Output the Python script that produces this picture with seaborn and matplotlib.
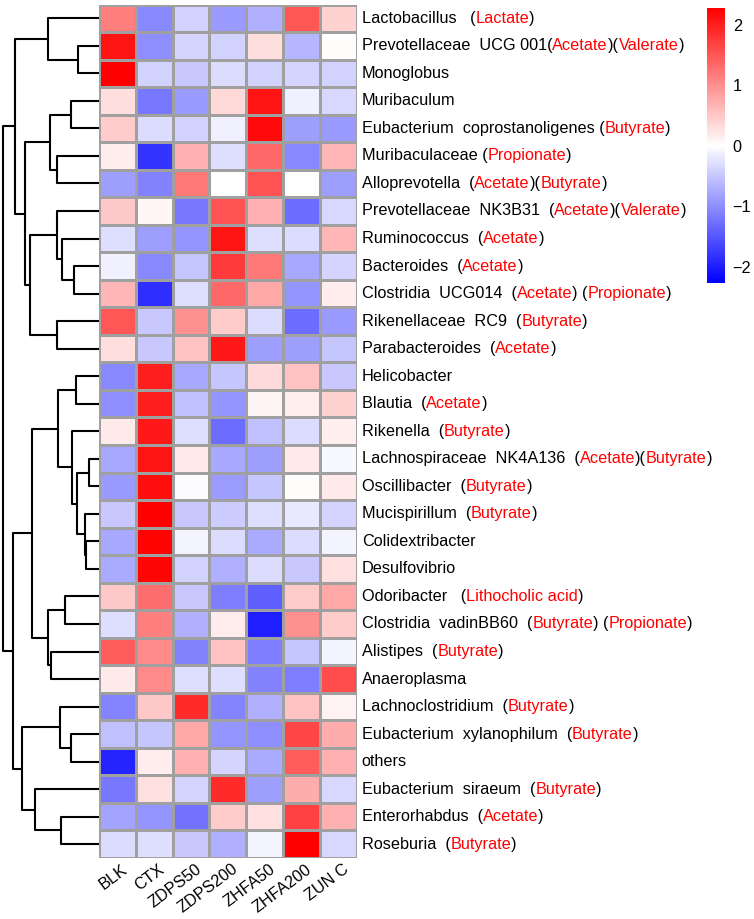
import re
import numpy as np
import pandas as pd
import matplotlib
matplotlib.use('Agg')
import matplotlib.pyplot as plt
import seaborn as sns
from matplotlib.colors import LinearSegmentedColormap
from matplotlib.transforms import ScaledTranslation

sns.set_style('white')
plt.rcParams['font.family'] = ['Liberation Sans', 'DejaVu Sans']
plt.rcParams['text.color'] = 'black'
plt.rcParams['xtick.color'] = 'black'
plt.rcParams['ytick.color'] = 'black'

# row labels (metabolites in brackets are drawn in red)
labels = [
    'Lactobacillus   (Lactate)',
    'Prevotellaceae  UCG 001(Acetate)(Valerate)',
    'Monoglobus',
    'Muribaculum',
    'Eubacterium  coprostanoligenes (Butyrate)',
    'Muribaculaceae (Propionate)',
    'Alloprevotella  (Acetate)(Butyrate)',
    'Prevotellaceae  NK3B31  (Acetate)(Valerate)',
    'Ruminococcus  (Acetate)',
    'Bacteroides  (Acetate)',
    'Clostridia  UCG014  (Acetate) (Propionate)',
    'Rikenellaceae  RC9  (Butyrate)',
    'Parabacteroides  (Acetate)',
    'Helicobacter',
    'Blautia  (Acetate)',
    'Rikenella  (Butyrate)',
    'Lachnospiraceae  NK4A136  (Acetate)(Butyrate)',
    'Oscillibacter  (Butyrate)',
    'Mucispirillum  (Butyrate)',
    'Colidextribacter',
    'Desulfovibrio',
    'Odoribacter   (Lithocholic acid)',
    'Clostridia  vadinBB60  (Butyrate) (Propionate)',
    'Alistipes  (Butyrate)',
    'Anaeroplasma',
    'Lachnoclostridium  (Butyrate)',
    'Eubacterium  xylanophilum  (Butyrate)',
    'others',
    'Eubacterium  siraeum  (Butyrate)',
    'Enterorhabdus  (Acetate)',
    'Roseburia  (Butyrate)',
]

groups = ['BLK', 'CTX', 'ZDPS50', 'ZDPS200', 'ZHFA50', 'ZHFA200', 'ZUN C']

# scaled abundance (z-score) per group, row order as in the figure
blk = [1.15, 2.1, 2.28, 0.3, 0.45, 0.18, -0.85, 0.5, -0.28, -0.12, 0.65, 1.5, 0.3, -1.05, -1.0, 0.2,
       -0.77, -0.9, -0.48, -0.77, -0.75, 0.5, -0.28, 1.45, 0.2, -1.08, -0.55, -1.95, -1.2, -0.8, -0.3]
ctx = [-1.05, -1.0, -0.4, -1.2, -0.3, -1.8, -1.1, 0.08, -0.85, -1.05, -1.85, -0.48, -0.48, 2.0, 2.0, 2.05,
       2.1, 2.15, 2.28, 2.25, 2.22, 1.3, 1.15, 1.05, 1.05, 0.5, -0.5, 0.18, 0.28, -0.95, -0.28]
zdps50 = [-0.4, -0.38, -0.48, -0.9, -0.4, 0.7, 1.2, -1.2, -0.95, -0.5, -0.28, 1.0, 0.55, -0.77, -0.55, -0.28,
          0.2, -0.03, -0.48, -0.1, -0.4, -0.48, -0.7, -1.1, -0.28, 1.9, 0.78, 0.7, -0.38, -1.25, -0.48]
zdps200 = [-0.9, -0.4, -0.3, 0.35, -0.12, -0.28, 0.0, 1.55, 2.1, 1.75, 1.35, 0.45, 2.05, -0.5, -0.95, -1.3,
           -0.77, -0.88, -0.45, -0.3, -0.7, -1.15, 0.18, 0.55, -0.28, -1.08, -0.95, -0.38, 1.9, 0.45, -0.7]
zhfa50 = [-0.7, 0.3, -0.4, 2.1, 2.18, 1.35, 1.55, 0.7, -0.28, 1.2, 0.78, -0.3, -0.85, 0.33, 0.1, -0.55,
          -0.85, -0.5, -0.28, -0.75, -0.3, -1.4, -2.0, -1.15, -1.1, -0.7, -1.0, -0.75, -0.85, 0.28, -0.1]
zhfa200 = [1.5, -0.65, -0.38, -0.13, -0.85, -1.05, 0.0, -1.3, -0.3, -0.77, -0.95, -1.3, -0.85, 0.55, 0.15, -0.3,
           0.2, 0.03, -0.2, -0.3, -0.48, 0.45, 1.0, -0.5, -1.15, 0.55, 1.65, 1.45, 0.75, 1.7, 2.28]
zunc = [0.4, 0.03, -0.4, -0.35, -0.9, 0.65, -0.85, -0.35, 0.65, -0.38, 0.18, -0.9, -0.5, -0.48, 0.4, 0.15,
        -0.05, 0.2, -0.38, -0.1, 0.28, 0.78, 0.45, -0.1, 1.6, 0.12, 0.75, 0.7, -0.35, 0.7, -0.35]

# row clustering: (child a, child b, height), new node id = n + k
row_linkage = [
    (1, 2, 20.7), (0, 31, 50.7), (3, 4, 28), (5, 6, 41.7), (33, 34, 49),
    (9, 10, 25), (8, 36, 37.3), (7, 37, 41.7), (11, 12, 41.7), (38, 39, 69),
    (35, 40, 74), (32, 41, 84), (13, 14, 23), (16, 17, 10), (19, 20, 13),
    (18, 45, 14), (44, 46, 21.7), (15, 47, 27.3), (43, 48, 40.7), (21, 22, 34),
    (23, 24, 48), (50, 51, 51.3), (49, 52, 66.7), (26, 27, 28), (25, 54, 39),
    (29, 30, 38.3), (28, 56, 64), (55, 57, 77.3), (53, 58, 85.7), (42, 59, 96.3),
]

df = pd.DataFrame({'BLK': blk, 'CTX': ctx, 'ZDPS50': zdps50, 'ZDPS200': zdps200,
                   'ZHFA50': zhfa50, 'ZHFA200': zhfa200, 'ZUN C': zunc})
n = len(df)

W, H = 754, 919
fig = plt.figure(figsize=(W / 100, H / 100), dpi=100)
top, bot = 4.5, 858
hax = fig.add_axes([99 / W, 1 - bot / H, 257.7 / W, (bot - top) / H])
dax = fig.add_axes([0, 1 - bot / H, 99 / W, (bot - top) / H])
cax = fig.add_axes([707 / W, 1 - 283 / H, 18 / W, 275 / H])

cmap = LinearSegmentedColormap.from_list('bwr_ph', ['#0000FF', '#FFFFFF', '#FF0000'])
sns.heatmap(df, ax=hax, cbar_ax=cax, cmap=cmap, vmin=-2.27, vmax=2.28,
            linewidths=0.8, linecolor='#A0A0A0')

fs = 11.7
hax.set_yticks([])
hax.set_ylabel('')
hax.set_xticks(np.arange(len(groups)) + 0.5)
hax.set_xticklabels(groups, rotation=37, ha='right', va='top', rotation_mode='anchor',
                    fontsize=fs, color='black')
hax.tick_params(axis='x', length=0, pad=2.5)
for lbl in hax.get_xticklabels():
    lbl.set_transform(lbl.get_transform() + ScaledTranslation(4 / 100, 0, fig.dpi_scale_trans))

cbar = hax.collections[0].colorbar
cbar.set_ticks([-2, -1, 0, 1, 2])
cbar.ax.tick_params(length=0, labelsize=fs, pad=5.5, labelcolor='black')
cbar.outline.set_visible(False)

# row labels: black names, red metabolites
for i, lab in enumerate(labels):
    parts = re.split(r'\(([^()]*)\)', lab)
    pieces = []
    for j, p in enumerate(parts):
        if j % 2 == 0:
            seq = [(p, 'black')]
        else:
            seq = [('(', 'black'), (p, '#FF0000'), (')', 'black')]
        for t, c in seq:
            if not t:
                continue
            if pieces and pieces[-1][1] == c:
                pieces[-1] = (pieces[-1][0] + t, c)
            else:
                pieces.append((t, c))
    prev = hax.annotate(pieces[0][0], xy=(len(groups), i + 0.5), xycoords='data',
                        xytext=(3.6, 0), textcoords='offset points',
                        va='center', ha='left', fontsize=fs, color=pieces[0][1],
                        annotation_clip=False)
    for t, c in pieces[1:]:
        prev = hax.annotate(t, xy=(1, 0), xycoords=prev, va='bottom', ha='left',
                            fontsize=fs, color=c)

# row dendrogram
pos = {i: i + 0.5 for i in range(n)}
hgt = {i: 0.0 for i in range(n)}
for k, (a, b, h) in enumerate(row_linkage):
    dax.plot([hgt[a], h, h, hgt[b]], [pos[a], pos[a], pos[b], pos[b]],
             color='black', lw=1.5, solid_capstyle='butt', clip_on=False)
    pos[n + k] = (pos[a] + pos[b]) / 2
    hgt[n + k] = h
dax.set_xlim(99, 0)
dax.set_ylim(n, 0)
dax.axis('off')

fig.savefig('out.png', dpi=100)
